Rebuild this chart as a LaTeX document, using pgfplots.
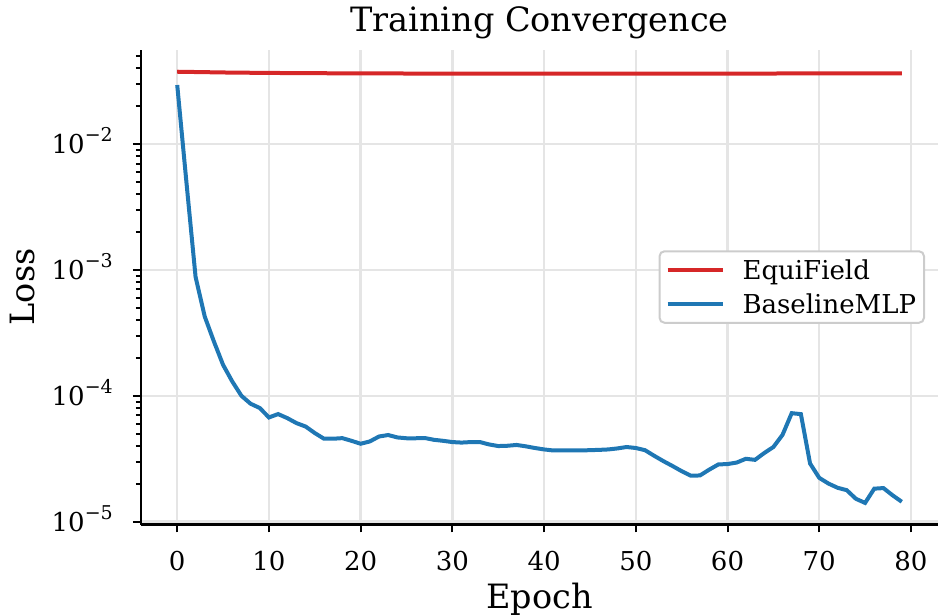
\documentclass[border=0pt]{standalone}
\usepackage{fontspec}
\setmainfont{DejaVu Serif}
\usepackage{pgfplots}
\pgfplotsset{compat=1.18}

\definecolor{tabred}{HTML}{D62728}
\definecolor{tabblue}{HTML}{1F77B4}
\newcommand{\ticksize}{\fontsize{26}{30}\selectfont}
\newcommand{\labsize}{\fontsize{33.5}{38}\selectfont}
\newcommand{\pw}[1]{10\raisebox{12pt}{\fontsize{19}{20}\selectfont −#1}}

\begin{document}
\begin{tikzpicture}
  \begin{axis}[
    scale only axis,
    width=797pt, height=475pt,
    ymode=log,
    xmin=-3.95, xmax=82.95,
    ymin=9.5e-6, ymax=0.0563,
    axis x line*=bottom, axis y line*=left,
    axis line style={line width=2.5pt},
    every tick/.style={black, line width=2pt},
    tick align=outside,
    major tick length=8pt, minor tick length=5pt,
    xtick={0,10,20,30,40,50,60,70,80},
    xticklabels={0,10,20,30,40,50,60,70,80},
    ytick={1e-5,1e-4,1e-3,1e-2},
    yticklabels={\pw{5},\pw{4},\pw{3},\pw{2}},
    minor ytick={2e-5,3e-5,4e-5,5e-5,6e-5,7e-5,8e-5,9e-5,
                 2e-4,3e-4,4e-4,5e-4,6e-4,7e-4,8e-4,9e-4,
                 2e-3,3e-3,4e-3,5e-3,6e-3,7e-3,8e-3,9e-3,
                 2e-2,3e-2,4e-2,5e-2},
    grid=major,
    major grid style={gray!20, line width=2.5pt},
    xticklabel style={font=\ticksize, inner sep=0pt, anchor=base, yshift=-38.5pt},
    yticklabel style={font=\ticksize, inner sep=0pt, anchor=base east, xshift=-20pt, yshift=-9.5pt},
    title={Training Convergence},
    title style={font=\labsize, at={(axis description cs:0.5,1.025)}, anchor=base, inner sep=0pt},
    xlabel={Epoch},
    xlabel style={font=\labsize, at={(axis description cs:0.5,-0.176)}, anchor=base, inner sep=0pt},
    ylabel={Loss},
    ylabel style={font=\labsize, at={(axis description cs:-0.134,0.5)}, anchor=base, inner sep=0pt},
    legend cell align=left,
    legend style={at={(axis description cs:0.9837,0.5)}, anchor=east,
      draw=gray!40, line width=2pt, rounded corners=5pt, fill=white,
      font=\ticksize, inner sep=6pt, row sep=9pt,
      nodes={inner sep=2pt}},
    legend image code/.code={
      \path (0pt,0pt) (71pt,0pt);
      \draw[#1, line width=4pt] (0pt,0pt) -- (55pt,0pt);},
  ]
    \addplot[tabred, line width=4pt, mark=none] coordinates {
      (0,0.0375) (1,0.0374) (2,0.0373) (3,0.0372) (4,0.0371) (5,0.0370)
      (6,0.0369) (8,0.0368) (10,0.0367) (12,0.0366) (15,0.0365) (20,0.0364)
      (25,0.0363) (30,0.0363) (35,0.0363) (40,0.0363) (45,0.0363) (50,0.0363)
      (55,0.0363) (60,0.0363) (65,0.0363) (70,0.0364) (75,0.0364) (79,0.0364)
    };
    \addlegendentry{EquiField}
    \addplot[tabblue, line width=4pt, mark=none] coordinates {
      (0,0.0294) (1,0.0050) (2,8.8e-4) (3,4.26e-4) (4,2.70e-4) (5,1.76e-4)
      (6,1.30e-4) (7,1.00e-4) (8,8.65e-5) (9,8.0e-5) (10,6.73e-5) (11,7.16e-5)
      (12,6.65e-5) (13,6.07e-5) (14,5.70e-5) (15,5.06e-5) (16,4.56e-5) (17,4.56e-5)
      (18,4.61e-5) (19,4.39e-5) (20,4.16e-5) (21,4.34e-5) (22,4.75e-5) (23,4.88e-5)
      (24,4.67e-5) (25,4.60e-5) (26,4.60e-5) (27,4.62e-5) (28,4.47e-5) (29,4.39e-5)
      (30,4.29e-5) (31,4.25e-5) (32,4.29e-5) (33,4.29e-5) (34,4.11e-5) (35,3.99e-5)
      (36,4.01e-5) (37,4.07e-5) (38,3.97e-5) (39,3.85e-5) (40,3.75e-5) (41,3.68e-5)
      (42,3.68e-5) (43,3.68e-5) (44,3.68e-5) (45,3.70e-5) (46,3.72e-5) (47,3.75e-5)
      (48,3.82e-5) (49,3.92e-5) (50,3.85e-5) (51,3.70e-5) (52,3.34e-5) (53,3.03e-5)
      (54,2.77e-5) (55,2.52e-5) (56,2.32e-5) (57,2.33e-5) (58,2.59e-5) (59,2.85e-5)
      (60,2.87e-5) (61,2.95e-5) (62,3.16e-5) (63,3.10e-5) (64,3.51e-5) (65,3.92e-5)
      (66,4.90e-5) (67,7.28e-5) (68,7.15e-5) (69,2.90e-5) (70,2.23e-5) (71,2.01e-5)
      (72,1.86e-5) (73,1.78e-5) (74,1.52e-5) (75,1.41e-5) (76,1.83e-5) (77,1.85e-5)
      (78,1.62e-5) (79,1.44e-5)
    };
    \addlegendentry{BaselineMLP}
  \end{axis}
  \pgfresetboundingbox
  \useasboundingbox (-141pt,-90.5pt) rectangle (799pt,524.5pt);
\end{tikzpicture}
\end{document}
